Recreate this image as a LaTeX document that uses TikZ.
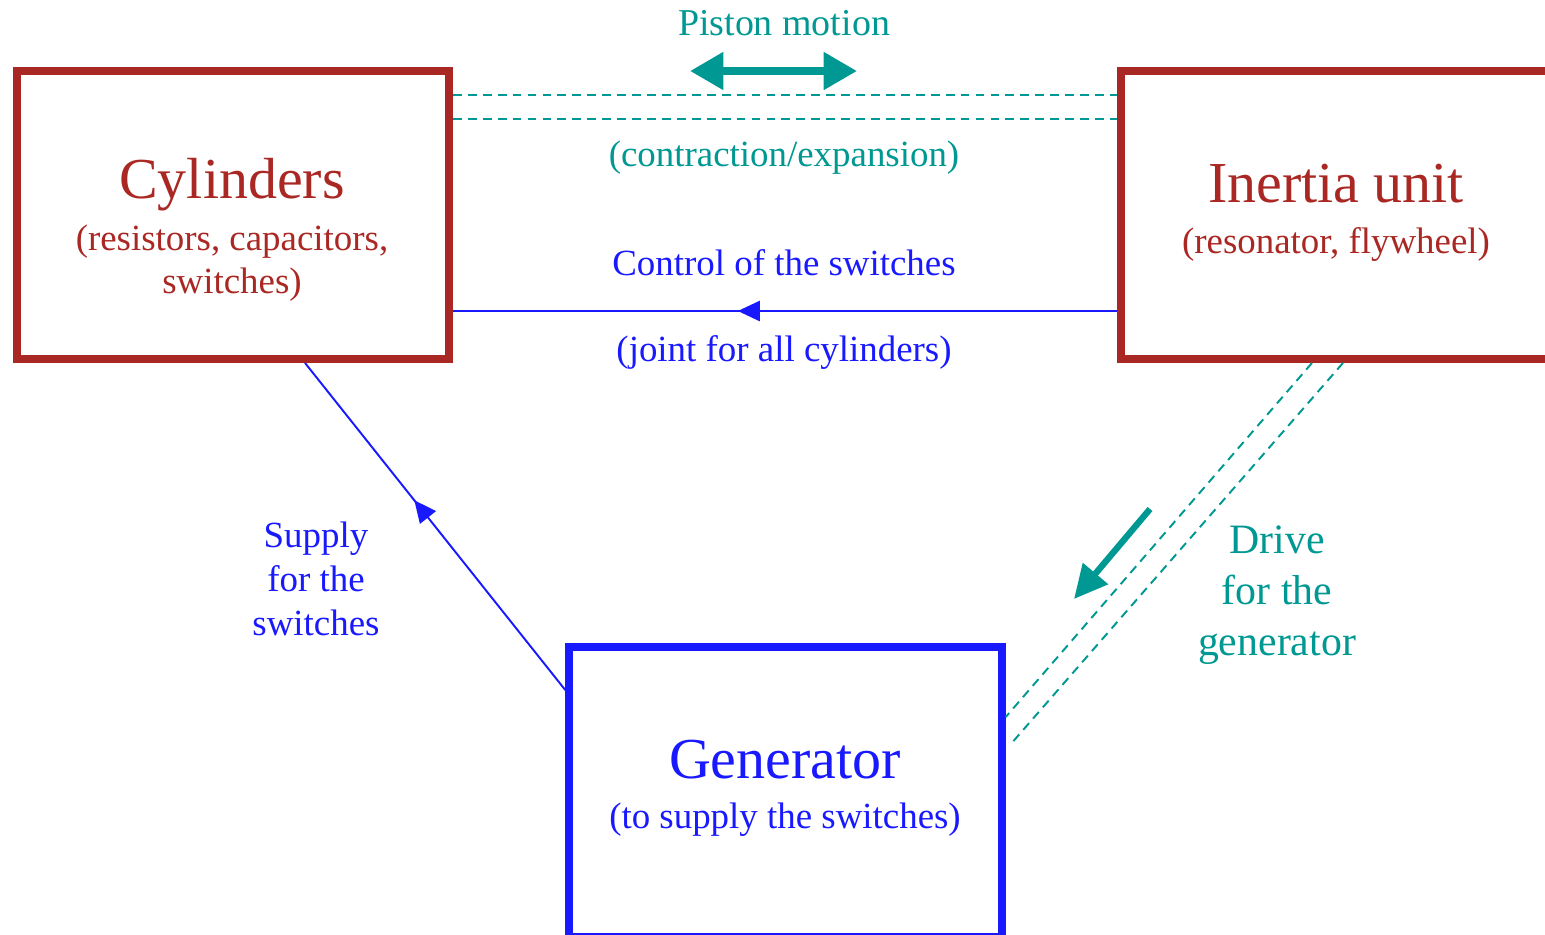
\documentclass[tikz,border=0pt]{standalone}
\usepackage{fontspec}
\setmainfont{Liberation Serif}
\usetikzlibrary{arrows.meta,decorations.markings}
\definecolor{dred}{RGB}{170,40,35}
\definecolor{myblue}{RGB}{25,25,255}
\definecolor{tealc}{RGB}{0,152,146}
\begin{document}
\begin{tikzpicture}[x=0.02cm,y=-0.02cm,
  box/.style={draw,line width=4.5pt,inner sep=0pt},
  big/.style={font=\fontsize{33}{38}\selectfont,anchor=base},
  small/.style={font=\fontsize{21}{24}\selectfont,anchor=base},
  mid/.style={font=\fontsize{21.6}{26}\selectfont,anchor=base},
  drv/.style={font=\fontsize{23.8}{28}\selectfont,anchor=base},
  dashln/.style={tealc,line width=1.1pt,dash pattern=on 5pt off 3.5pt},
  thinln/.style={myblue,line width=1.1pt},
  midarrow/.style={decoration={markings,mark=at position #1 with {\arrow{Triangle[length=12.5pt,width=11.5pt]}}},postaction={decorate}}]
\useasboundingbox (0,0) rectangle (1545,934);
\clip (0,0) rectangle (1545,934);
% boxes
\node[box,dred,minimum width=8.64cm,minimum height=5.76cm] (cyl) at (233,215) {};
\node[box,dred,minimum width=8.56cm,minimum height=5.76cm] (inr) at (1335,215) {};
\node[box,myblue,line width=4.3pt,minimum width=8.66cm,minimum height=5.8cm] (gen) at (785.5,792) {};
% box texts
\node[big,dred] (cylT) at (232,198) {Cylinders};
\node[small,dred] (cylS1) at (232,250) {(resistors, capacitors,};
\node[small,dred] (cylS2) at (232,293) {switches)};
\node[big,dred] (inrT) at (1336,202) {Inertia unit};
\node[small,dred] (inrS) at (1336,253) {(resonator, flywheel)};
\node[big,myblue] (genT) at (785,778) {Generator};
\node[small,myblue] (genS) at (785,828) {(to supply the switches)};
% helper coordinates
\coordinate (y95) at (0,95);
\coordinate (y119) at (0,119);
\coordinate (y311) at (0,311);
\coordinate (y690) at (0,690);
\coordinate (y717) at (0,717);
\coordinate (x305) at (305,0);
\coordinate (x1312) at (1312,0);
\coordinate (x1343) at (1343,0);
\coordinate (dEnd) at (1010,745);
\coordinate (pl) at (690,71);
\coordinate (pr) at (857,71);
\coordinate (ta1) at (1150,509);
\coordinate (ta2) at (1074,599);
% piston motion
\draw[tealc,line width=4.5pt,{Triangle[length=19pt,width=20.5pt]}-{Triangle[length=19pt,width=20.5pt]}] (pl) -- (pr);
\node[mid,tealc] (pm) at (784,35) {Piston motion};
\draw[dashln] (cyl.east |- y95) -- (inr.west |- y95);
\draw[dashln] (cyl.east |- y119) -- (inr.west |- y119);
\node[small,tealc] (ce) at (784,166) {(contraction/expansion)};
% control
\node[small,myblue] (cs) at (784,275) {Control of the switches};
\draw[thinln,midarrow=0.571] (inr.west |- y311) -- (cyl.east |- y311);
\node[small,myblue] (jc) at (784,361) {(joint for all cylinders)};
% supply
\draw[thinln,midarrow=0.58] (gen.west |- y690) -- (cyl.south -| x305);
\node[small,myblue] (sp1) at (316,547) {Supply};
\node[small,myblue] (sp2) at (316,591) {for the};
\node[small,myblue] (sp3) at (316,635) {switches};
% drive
\draw[dashln] (inr.south -| x1312) -- (gen.east |- y717);
\draw[dashln] (inr.south -| x1343) -- (dEnd);
\draw[tealc,line width=3.6pt,-{Triangle[length=19pt,width=18pt]}] (ta1) -- (ta2);
\node[drv,tealc] (dr1) at (1277,553) {Drive};
\node[drv,tealc] (dr2) at (1277,604) {for the};
\node[drv,tealc] (dr3) at (1277,655) {generator};
\end{tikzpicture}
\end{document}
